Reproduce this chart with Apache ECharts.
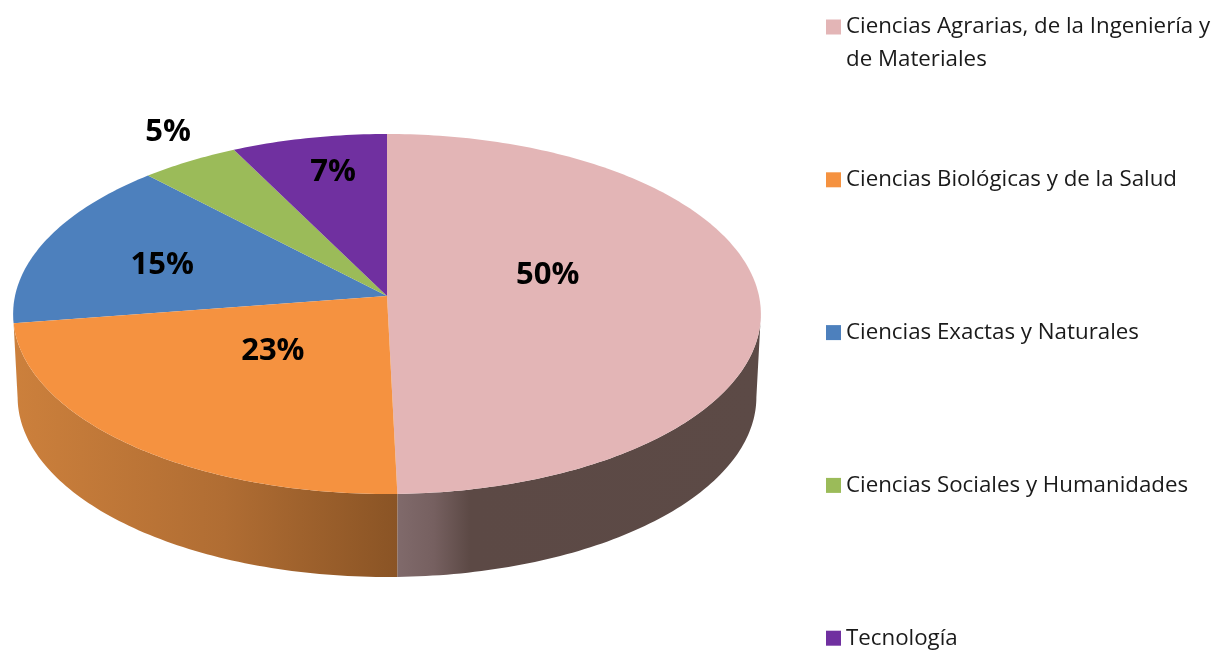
<!DOCTYPE html>
<html>
<head>
<meta charset="utf-8">
<title>Áreas</title>
<style>
  html, body { margin: 0; padding: 0; background: #fff; }
  #chart { width: 1216px; height: 650px; }
</style>
</head>
<body>
<div id="chart"></div>
<script src="https://cdn.jsdelivr.net/npm/echarts@6/dist/echarts.min.js"></script>
<script>
  // datos
  var categories = [
    'Ciencias Agrarias, de la Ingeniería y de Materiales',
    'Ciencias Biológicas y de la Salud',
    'Ciencias Exactas y Naturales',
    'Ciencias Sociales y Humanidades',
    'Tecnología'
  ];
  var values = [49.6, 23, 15.3, 4.7, 7.4];

  var colors = ['#e3b5b6', '#f59240', '#4d80bd', '#9bbb59', '#7030a0'];
  var wallColors = [
    [[0, '#806a6b'], [0.1, '#766060'], [0.2, '#5c4945'], [1, '#5c4a46']],
    [[0, '#cc803c'], [0.55, '#b06d33'], [1, '#8a5425']],
    [[0, '#3b6391'], [1, '#3b6391']],
    [[0, '#78904a'], [1, '#78904a']],
    [[0, '#56257b'], [1, '#56257b']]
  ];
  // posicion de cada etiqueta: angulo (grados, desde arriba) y fraccion del radio
  var labelAngle = [73.3, 225.9, 287.1, 327.7, 348.4];
  var labelRadius = [0.457, 0.415, 0.644, 1.215, 0.777];

  // disco en perspectiva
  var cx = 387, cy = 296, rx = 372, ry = 178.2, persp = 0.1;
  var depth = 83, bottomScale = 0.988;
  var total = values.reduce(function (a, b) { return a + b; }, 0);

  function project(deg, r) {
    var t = deg * Math.PI / 180;
    var u = Math.sin(t) * r, v = -Math.cos(t) * r;
    var w = 1 - persp * v;
    return [cx + rx * u / w, cy + ry * v / w];
  }

  function arcPoints(from, to) {
    var pts = [];
    var n = Math.max(2, Math.ceil(Math.abs(to - from)));
    for (var i = 0; i <= n; i++) {
      pts.push(project(from + (to - from) * i / n, 1));
    }
    return pts;
  }

  function startAngle(idx) {
    var sum = 0;
    for (var i = 0; i < idx; i++) sum += values[i];
    return sum / total * 360;
  }

  // la pared solo se ve entre los dos puntos extremos de la elipse
  var frontFrom = Math.acos(-persp) * 180 / Math.PI;
  var frontTo = 360 - frontFrom;

  function renderSlice(idx) {
    return function (params, api) {
      var val = api.value(0);
      var a0 = startAngle(idx);
      var a1 = a0 + val / total * 360;
      var children = [];

      var w0 = Math.max(a0, frontFrom), w1 = Math.min(a1, frontTo);
      if (w1 > w0) {
        var top = arcPoints(w0, w1);
        var low = top.map(function (p) {
          return [cx + (p[0] - cx) * bottomScale, p[1] + depth];
        }).reverse();
        children.push({
          type: 'polygon',
          shape: { points: top.concat(low) },
          style: {
            fill: new echarts.graphic.LinearGradient(0, 0, 1, 0, wallColors[idx].map(function (s) {
              return { offset: s[0], color: s[1] };
            }))
          }
        });
      }
      children.push({
        type: 'polygon',
        z2: 5,
        shape: { points: [[cx, cy]].concat(arcPoints(a0, a1)) },
        style: { fill: colors[idx] }
      });
      var lp = project(labelAngle[idx], labelRadius[idx]);
      children.push({
        type: 'text',
        z2: 10,
        x: lp[0],
        y: lp[1] + 2,
        style: {
          text: Math.round(val) + '%',
          fill: '#000',
          font: 'bold 31px "Open Sans"',
          align: 'center',
          verticalAlign: 'middle'
        }
      });
      return { type: 'group', children: children };
    };
  }

  var chart = echarts.init(document.getElementById('chart'), null, { renderer: 'canvas' });

  var series = categories.map(function (name, i) {
    return {
      name: name,
      type: 'custom',
      coordinateSystem: 'none',
      // los laterales primero, para que la cara de arriba quede encima
      z: i < 2 ? 3 : 2,
      silent: true,
      animation: false,
      itemStyle: { color: colors[i] },
      renderItem: renderSlice(i),
      data: [[values[i]]]
    };
  });

  chart.setOption({
    backgroundColor: '#fff',
    animation: false,
    legend: {
      orient: 'vertical',
      left: 826,
      top: 12,
      height: 700,
      padding: 0,
      itemWidth: 15,
      itemHeight: 15,
      itemGap: 122.8,
      icon: 'rect',
      selectedMode: false,
      textStyle: { fontFamily: 'Open Sans', fontSize: 22.3, color: '#1a1a1a', height: 30, lineHeight: 30 },
      formatter: function (name) {
        // el primer nombre ocupa dos lineas: la segunda va en graphic
        return name === categories[0] ? 'Ciencias Agrarias, de la Ingeniería y' : name;
      },
      data: categories
    },
    graphic: [{
      type: 'text',
      left: 846,
      top: 45,
      style: { text: 'de Materiales', font: '22.3px "Open Sans"', fill: '#1a1a1a', lineHeight: 30, height: 30 }
    }],
    series: series
  });
</script>
</body>
</html>
